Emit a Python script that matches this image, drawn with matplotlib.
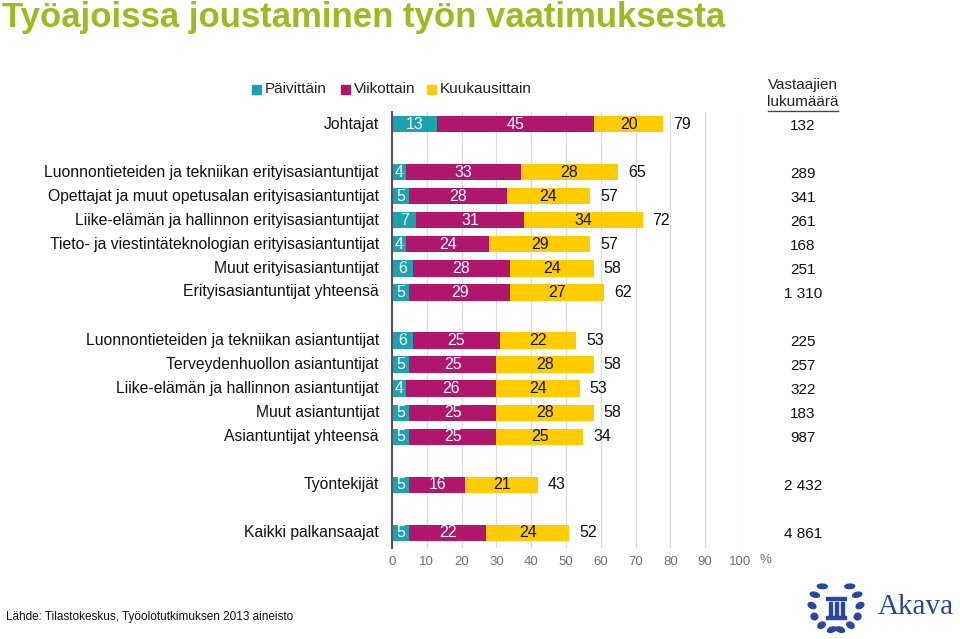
import numpy as np
import matplotlib.pyplot as plt
from matplotlib.patches import Ellipse, Rectangle

plt.rcParams['font.family'] = ['Liberation Sans', 'DejaVu Sans']

# rivit ylhaalta alas, u = rivin paikka (tyhjat valit ryhmien valissa)
rows = [
    "Johtajat",
    "Luonnontieteiden ja tekniikan erityisasiantuntijat",
    "Opettajat ja muut opetusalan erityisasiantuntijat",
    "Liike-elämän ja hallinnon erityisasiantuntijat",
    "Tieto- ja viestintäteknologian erityisasiantuntijat",
    "Muut erityisasiantuntijat",
    "Erityisasiantuntijat yhteensä",
    "Luonnontieteiden ja tekniikan asiantuntijat",
    "Terveydenhuollon asiantuntijat",
    "Liike-elämän ja hallinnon asiantuntijat",
    "Muut asiantuntijat",
    "Asiantuntijat yhteensä",
    "Työntekijät",
    "Kaikki palkansaajat",
]
row_pos = [0, 2, 3, 4, 5, 6, 7, 9, 10, 11, 12, 13, 15, 17]

paivittain = [13, 4, 5, 7, 4, 6, 5, 6, 5, 4, 5, 5, 5, 5]
viikottain = [45, 33, 28, 31, 24, 28, 29, 25, 25, 26, 25, 25, 16, 22]
kuukausittain = [20, 28, 24, 34, 29, 24, 27, 22, 28, 24, 28, 25, 21, 24]
yhteensa = [79, 65, 57, 72, 57, 58, 62, 53, 58, 53, 58, 34, 43, 52]
vastaajat = ["132", "289", "341", "261", "168", "251", "1 310",
             "225", "257", "322", "183", "987", "2 432", "4 861"]

series_names = ["Päivittäin", "Viikottain", "Kuukausittain"]
colors = ["#1ba3b1", "#b0166b", "#ffcc00"]
text_colors = ["white", "white", "#111111"]

W, H = 960, 639
fig = plt.figure(figsize=(W / 100, H / 100), dpi=100)


def fx(px):
    return px / W


def fy(py):
    return 1 - py / H


ax_left, ax_right, ax_top, ax_bot = 392, 740, 112, 548
ax = fig.add_axes([fx(ax_left), fy(ax_bot), fx(ax_right - ax_left), (ax_bot - ax_top) / H])
ax.set_xlim(0, 100)
ax.set_ylim(17 + (ax_bot - 533) / 24, -(124 - ax_top) / 24)

left = np.zeros(len(rows))
for vals, c, tc in zip([paivittain, viikottain, kuukausittain], colors, text_colors):
    vals = np.array(vals, dtype=float)
    ax.barh(row_pos, vals, left=left, height=0.68, color=c, zorder=3)
    for y, l, v in zip(row_pos, left, vals):
        ax.text(l + v / 2, y, f"{int(v)}", ha="center", va="center",
                color=tc, fontsize=11.5, zorder=4)
    left += vals

for y, end, t in zip(row_pos, left, yhteensa):
    ax.annotate(str(t), (end, y), xytext=(7, 0), textcoords="offset points",
                ha="left", va="center", fontsize=11.5, color="#111111")

ax.set_xticks(np.arange(0, 101, 10))
ax.xaxis.grid(True, color="#dcdcdc", lw=0.9, zorder=0)
ax.set_yticks([])
ax.tick_params(axis="x", length=0, labelsize=9.5, labelcolor="#707070", pad=6)
for s in ["top", "right", "bottom"]:
    ax.spines[s].set_visible(False)
ax.spines["left"].set_color("#555555")
ax.spines["left"].set_linewidth(1.5)
ax.spines["left"].set_zorder(5)

# rivien nimet
for y, name in zip(row_pos, rows):
    fig.text(fx(379), fy(124 + 24 * y), name, ha="right", va="center",
             fontsize=11.3, color="#111111")

# vastaajien lukumaara
fig.text(fx(803), fy(85), "Vastaajien", ha="center", va="center", fontsize=11, color="#222222")
fig.text(fx(803), fy(102), "lukumäärä", ha="center", va="center", fontsize=11, color="#222222")
fig.add_artist(plt.Line2D([fx(768), fx(838)], [fy(111), fy(111)], color="#444444", lw=1))
for y, n in zip(row_pos, vastaajat):
    fig.text(fx(803), fy(126 + 24 * y), n, ha="center", va="center", fontsize=11, color="#111111")

fig.text(fx(760), fy(560), "%", ha="left", va="center", fontsize=9.5, color="#707070")

# selite
leg_x = [252, 341, 427]
for x, name, c in zip(leg_x, series_names, colors):
    fig.add_artist(Rectangle((fx(x), fy(94)), 9 / W, 9 / H, color=c, transform=fig.transFigure))
    fig.text(fx(x + 13), fy(89), name, ha="left", va="center", fontsize=11, color="#222222")

# otsikko
fig.text(fx(2), fy(17), "Työajoissa joustaminen työn vaatimuksesta",
         ha="left", va="center", fontsize=25, fontweight="bold", color="#9bbb1f",
         family=["Liberation Sans Narrow", "Liberation Sans", "DejaVu Sans"])

fig.text(fx(6), fy(617), "Lähde: Tilastokeskus, Työolotutkimuksen 2013 aineisto",
         ha="left", va="center", fontsize=8.5, color="#111111")

# Akava-logo (yksinkertaistettu seppele + pylvas)
logo = "#2747a3"
cx, cy, r = 836, 606, 24
for side in (-1, 1):
    for k in range(6):
        ang = np.deg2rad(-55 + k * 27)
        px = cx + side * r * np.cos(ang)
        py = cy + r * np.sin(ang)
        fig.add_artist(Ellipse((fx(px), fy(py)), 10 / W, 4.5 / H,
                               angle=side * (np.rad2deg(ang) + 60), color=logo,
                               transform=fig.transFigure))
fig.add_artist(Rectangle((fx(826), fy(600)), 20 / W, 3 / H, color=logo, transform=fig.transFigure))
for dx in (829, 835, 841):
    fig.add_artist(Rectangle((fx(dx), fy(616)), 2.5 / W, 14 / H, color=logo, transform=fig.transFigure))
fig.add_artist(Rectangle((fx(826), fy(619)), 20 / W, 3 / H, color=logo, transform=fig.transFigure))
fig.text(fx(878), fy(607), "Akava", ha="left", va="center", fontsize=21,
         color=logo, family=["Liberation Serif", "DejaVu Serif"])

fig.savefig("out.png", dpi=100)
